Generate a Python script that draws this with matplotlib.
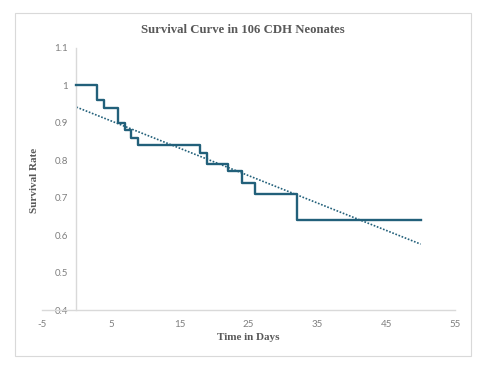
"""Kaplan-Meier style survival curve with linear trendline (Excel look)."""

import matplotlib
matplotlib.use("Agg")
import matplotlib.pyplot as plt
from matplotlib.patches import Rectangle

# Step curve: time (days) and survival rate after each event
days = [0, 3, 4, 6, 7, 8, 9, 18, 19, 22, 24, 26, 32, 50]
survival = [1.0, 0.96, 0.94, 0.90, 0.88, 0.86, 0.84, 0.82, 0.79, 0.77, 0.74, 0.71, 0.64, 0.64]

# Linear trendline endpoints
trend_days = [0, 50]
trend_rate = [0.942, 0.576]

x_ticks = [-5, 5, 15, 25, 35, 45, 55]
x_labels = ["-5", "5", "15", "25", "35", "45", "55"]
y_ticks = [0.4, 0.5, 0.6, 0.7, 0.8, 0.9, 1.0, 1.1]
y_labels = ["0.4", "0.5", "0.6", "0.7", "0.8", "0.9", "1", "1.1"]

line_color = "#22607a"
grey = "#d9d9d9"
text_grey = "#595959"
tick_grey = "#7f7f7f"

fig = plt.figure(figsize=(4.82, 3.66), dpi=100)
fig.patches.append(Rectangle((0.031, 0.027), 0.946, 0.937, transform=fig.transFigure,
                             fill=False, edgecolor=grey, linewidth=0.8))

ax = fig.add_axes([0.0871, 0.153, 0.857, 0.716])
ax.step(days, survival, where="post", color=line_color, linewidth=1.7, zorder=3)
ax.plot(trend_days, trend_rate, linestyle=(0, (1, 1)), color=line_color, linewidth=1.2, zorder=2)

ax.set_xlim(-5, 55)
ax.set_ylim(0.4, 1.1)
ax.set_xticks(x_ticks)
ax.set_xticklabels(x_labels)
ax.set_yticks(y_ticks)
ax.set_yticklabels(y_labels)

for side in ("top", "right"):
    ax.spines[side].set_visible(False)
ax.spines["left"].set_position(("data", 0))
ax.spines["left"].set_color(grey)
ax.spines["bottom"].set_color(grey)
ax.spines["left"].set_linewidth(1.0)
ax.spines["bottom"].set_linewidth(1.0)

ax.tick_params(length=0, labelsize=7, labelcolor=tick_grey)
ax.tick_params(axis="y", pad=6)
ax.tick_params(axis="x", pad=7)
for lab in ax.get_xticklabels() + ax.get_yticklabels():
    lab.set_family("Lato")

serif = dict(family="Liberation Serif", weight="bold", color=text_grey)
fig.text(0.504, 0.918, "Survival Curve in 106 CDH Neonates", ha="center", va="center",
         fontsize=9.2, **serif)
fig.text(0.071, 0.508, "Survival Rate", ha="center", va="center", rotation=90,
         fontsize=8, **serif)
fig.text(0.515, 0.077, "Time in Days", ha="center", va="center", fontsize=8, **serif)

fig.savefig("out.png", dpi=100)
plt.close(fig)
